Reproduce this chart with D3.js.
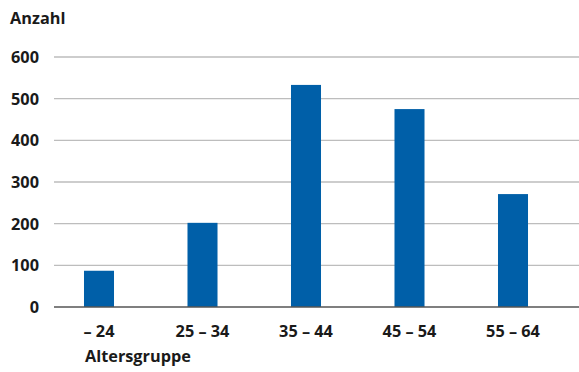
<!DOCTYPE html>
<html>
<head>
<meta charset="utf-8">
<script src="https://cdn.jsdelivr.net/npm/d3@7"></script>
<style>
  html, body { margin: 0; padding: 0; background: #fff; }
  svg text { font-family: "Open Sans", "DejaVu Sans", sans-serif; font-weight: 700; fill: #1a1a1a; }
</style>
</head>
<body>
<svg id="chart" width="579" height="372"></svg>
<script>
// Age groups and counts
const categories = ["\u2013 24", "25 \u2013 34", "35 \u2013 44", "45 \u2013 54", "55 \u2013 64"];
const values = [87, 202, 533, 475, 271];
const yTicks = [0, 100, 200, 300, 400, 500, 600];

const fontSize = 16.3;
const svg = d3.select("#chart");

const x = d3.scaleBand()
  .domain(categories)
  .range([47.25, 564.75])
  .paddingInner(0.71)
  .paddingOuter(0.355);

const y = d3.scaleLinear().domain([0, 600]).range([307, 57]);

// Horizontal gridlines
svg.append("g")
  .selectAll("line")
  .data(yTicks.filter(d => d > 0))
  .join("line")
  .attr("x1", 54).attr("x2", 579)
  .attr("y1", d => y(d)).attr("y2", d => y(d))
  .attr("stroke", "#bdbdbd")
  .attr("stroke-width", 1.3);

// Y tick labels
svg.append("g")
  .selectAll("text")
  .data(yTicks)
  .join("text")
  .attr("x", 39)
  .attr("y", d => y(d))
  .attr("dy", "0.36em")
  .attr("text-anchor", "end")
  .attr("font-size", fontSize)
  .text(d => d);

// Bars
svg.append("g")
  .selectAll("rect")
  .data(values)
  .join("rect")
  .attr("x", (d, i) => x(categories[i]))
  .attr("width", x.bandwidth())
  .attr("y", d => y(d))
  .attr("height", d => y(0) - y(d))
  .attr("fill", "#005fa8");

// Baseline
svg.append("line")
  .attr("x1", 54).attr("x2", 579)
  .attr("y1", y(0)).attr("y2", y(0))
  .attr("stroke", "#555")
  .attr("stroke-width", 1.5);

// X category labels
svg.append("g")
  .selectAll("text")
  .data(categories)
  .join("text")
  .attr("x", d => x(d) + x.bandwidth() / 2)
  .attr("y", 337)
  .attr("text-anchor", "middle")
  .attr("font-size", fontSize)
  .text(d => d);

// Axis titles
svg.append("text").attr("x", 10).attr("y", 24).attr("font-size", fontSize).text("Anzahl");
svg.append("text").attr("x", 85).attr("y", 362).attr("font-size", fontSize).text("Altersgruppe");
</script>
</body>
</html>
